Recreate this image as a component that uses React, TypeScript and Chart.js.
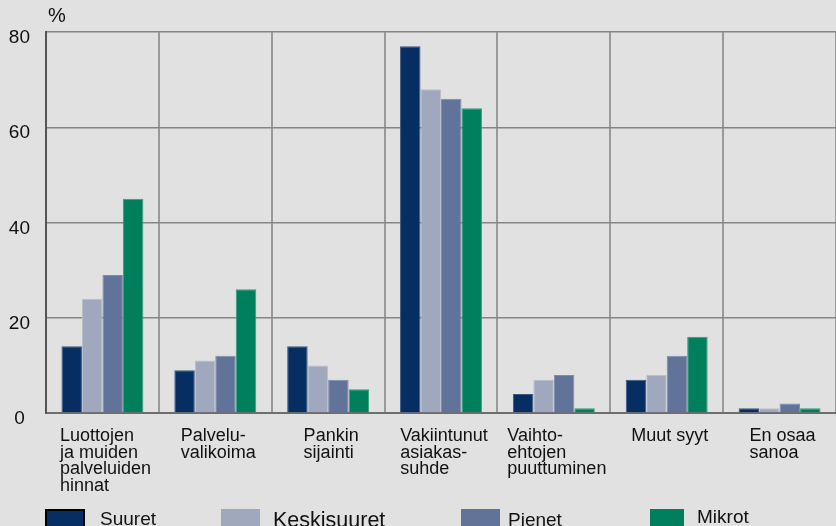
import React, { useEffect, useRef } from "react";
import { Chart, registerables } from "chart.js";

Chart.register(...registerables);

const categories: string[][] = [
  ["Luottojen", "ja muiden", "palveluiden", "hinnat"],
  ["Palvelu-", "valikoima"],
  ["Pankin", "sijainti"],
  ["Vakiintunut", "asiakas-", "suhde"],
  ["Vaihto-", "ehtojen", "puuttuminen"],
  ["Muut syyt"],
  ["En osaa", "sanoa"],
];

const seriesNames = ["Suuret", "Keskisuuret", "Pienet", "Mikrot"];
const suuret = [14, 9, 14, 77, 4, 7, 1];
const keskisuuret = [24, 11, 10, 68, 7, 8, 1];
const pienet = [29, 12, 7, 66, 8, 12, 2];
const mikrot = [45, 26, 5, 64, 1, 16, 1];
const yTicks = [0, 20, 40, 60, 80];
const yUnit = "%";

const FONT = '"Liberation Sans", Arial, Helvetica, sans-serif';
const fills = ["#062e63", "#a0a8bd", "#617399", "#007f5d"];
const edges = ["#3d5680", "#b9bfce", "#7c8cab", "#3a9a7c"];

const textPlugin = {
  id: "customText",
  beforeDraw(chart: any) {
    const { ctx, width, height } = chart;
    ctx.save();
    ctx.fillStyle = "#e1e1e1";
    ctx.fillRect(0, 0, width, height);
    ctx.restore();
  },
  afterDraw(chart: any) {
    const { ctx, chartArea } = chart;
    const xScale = chart.scales.x;
    ctx.save();
    ctx.fillStyle = "#111";
    ctx.textBaseline = "alphabetic";
    // unit
    ctx.font = `20px ${FONT}`;
    ctx.textAlign = "left";
    ctx.fillText(yUnit, chartArea.left + 2, 22);
    // category labels: left-aligned lines, block centred on category
    ctx.font = `18px ${FONT}`;
    const labels = chart.data.labels as string[][];
    labels.forEach((lines, i) => {
      const cx = xScale.getPixelForValue(i);
      const maxW = Math.max(...lines.map((l) => ctx.measureText(l).width));
      const x0 = cx - maxW / 2 + 3;
      lines.forEach((line, j) => {
        ctx.fillText(line, x0, chartArea.bottom + 28 + j * 16.7);
      });
    });
    // legend
    const legendX = [45, 221, 461, 650];
    const textX = [100, 273, 508, 697];
    const boxW = [40, 39, 39, 34];
    const fontSizes = [19, 21.5, 19, 19];
    const baselines = [525, 527, 526, 523];
    chart.data.datasets.forEach((ds: any, i: number) => {
      const top = 509;
      ctx.fillStyle = ds.backgroundColor;
      ctx.fillRect(legendX[i], top, boxW[i], 20);
      if (i === 0) {
        ctx.strokeStyle = "#000";
        ctx.lineWidth = 2;
        ctx.strokeRect(legendX[i] + 1, top + 1, boxW[i] - 2, 20);
      }
      ctx.fillStyle = "#111";
      ctx.font = `${fontSizes[i]}px ${FONT}`;
      ctx.fillText(ds.label, textX[i], baselines[i]);
    });
    ctx.restore();
  },
};

export default function App() {
  const canvasRef = useRef<HTMLCanvasElement | null>(null);

  useEffect(() => {
    if (!canvasRef.current) return;
    const seriesData = [suuret, keskisuuret, pienet, mikrot];
    const chart = new Chart(canvasRef.current, {
      type: "bar",
      data: {
        labels: categories as any,
        datasets: seriesNames.map((name, i) => ({
          label: name,
          data: seriesData[i],
          backgroundColor: fills[i],
          borderColor: edges[i],
          borderWidth: 1,
          categoryPercentage: 0.726,
          barPercentage: 1,
        })),
      },
      options: {
        animation: false,
        responsive: true,
        maintainAspectRatio: false,
        layout: { padding: { top: 32, left: 0, right: 0, bottom: 0 } },
        plugins: {
          legend: { display: false },
          tooltip: { enabled: false },
          title: { display: false },
        },
        scales: {
          x: {
            offset: true,
            grid: {
              offset: true,
              color: "#9a9a9a",
              lineWidth: 2,
              drawTicks: false,
            },
            border: { color: "#6e6e6e", width: 2 },
            ticks: { display: false },
            afterFit: (scale: any) => {
              scale.height = 113;
            },
          },
          y: {
            min: 0,
            max: 80,
            afterBuildTicks: (scale: any) => {
              scale.ticks = yTicks.map((v) => ({ value: v }));
            },
            grid: {
              color: "#858585",
              lineWidth: 1.5,
              drawTicks: false,
            },
            border: { color: "#555", width: 2 },
            ticks: {
              font: { family: FONT, size: 19 },
              color: "#111",
              padding: 16,
              crossAlign: "center",
              labelOffset: 6,
            },
            afterFit: (scale: any) => {
              scale.width = 46;
            },
          },
        },
      },
      plugins: [textPlugin],
    });
    return () => chart.destroy();
  }, []);

  return (
    <div
      style={{
        position: "fixed",
        left: 0,
        top: 0,
        width: 836,
        height: 526,
        background: "#e1e1e1",
      }}
    >
      <canvas ref={canvasRef} />
    </div>
  );
}
